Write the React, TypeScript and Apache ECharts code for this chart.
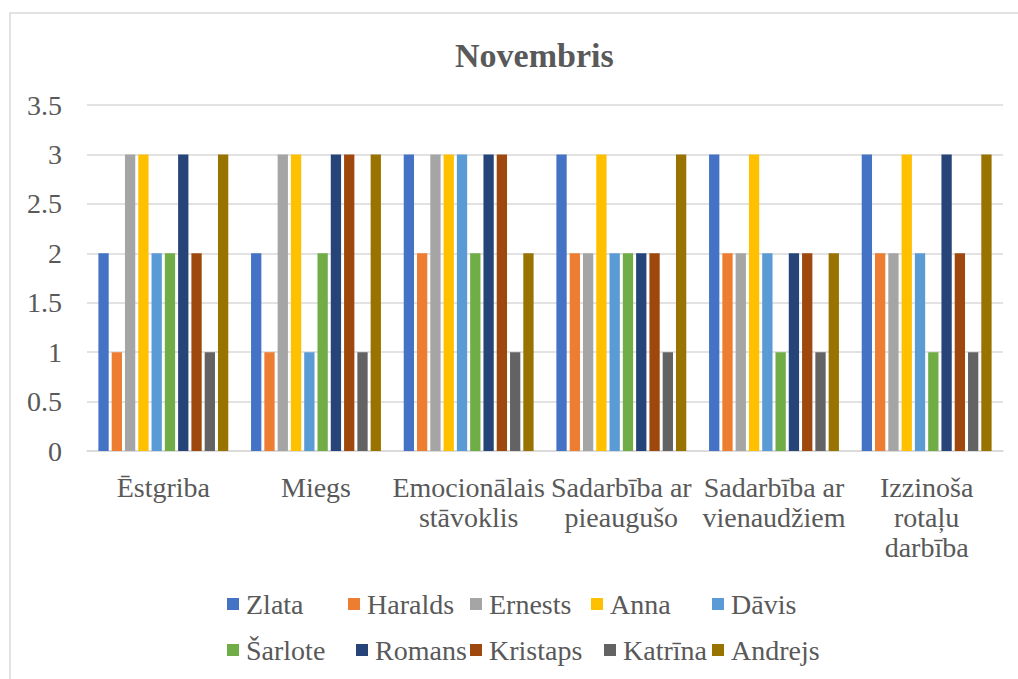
import React, { useEffect, useRef } from "react";
import * as echarts from "echarts";

const categories = [
  "Ēstgriba",
  "Miegs",
  "Emocionālais stāvoklis",
  "Sadarbība ar pieaugušo",
  "Sadarbība ar vienaudžiem",
  "Izzinoša rotaļu darbība",
];
const categoryLabels: Record<string, string> = {
  "Ēstgriba": "Ēstgriba",
  "Miegs": "Miegs",
  "Emocionālais stāvoklis": "Emocionālais\nstāvoklis",
  "Sadarbība ar pieaugušo": "Sadarbība ar\npieaugušo",
  "Sadarbība ar vienaudžiem": "Sadarbība ar\nvienaudžiem",
  "Izzinoša rotaļu darbība": "Izzinoša\nrotaļu\ndarbība",
};

const seriesNames = ["Zlata", "Haralds", "Ernests", "Anna", "Dāvis", "Šarlote", "Romans", "Kristaps", "Katrīna", "Andrejs"];
const colors = ["#4472C4", "#ED7D31", "#A5A5A5", "#FFC000", "#5B9BD5", "#70AD47", "#264478", "#9E480E", "#636363", "#997300"];

const zlata = [2, 2, 3, 3, 3, 3];
const haralds = [1, 1, 2, 2, 2, 2];
const ernests = [3, 3, 3, 2, 2, 2];
const anna = [3, 3, 3, 3, 3, 3];
const davis = [2, 1, 3, 2, 2, 2];
const sarlote = [2, 2, 2, 2, 1, 1];
const romans = [3, 3, 3, 2, 2, 3];
const kristaps = [2, 3, 3, 2, 2, 2];
const katrina = [1, 1, 1, 1, 1, 1];
const andrejs = [3, 3, 2, 3, 2, 3];

const seriesValues = [zlata, haralds, ernests, anna, davis, sarlote, romans, kristaps, katrina, andrejs];

const legendLeft = [227, 348, 470, 591, 712, 227, 356, 470, 604, 712];
const legendTop = [590, 590, 590, 590, 590, 636, 636, 636, 636, 636];

const FONT = "'Liberation Serif', 'Times New Roman', serif";
const TEXT = "#595959";

export default function App() {
  const ref = useRef<HTMLDivElement>(null);
  useEffect(() => {
    if (!ref.current) return;
    const chart = echarts.init(ref.current, undefined, { renderer: "svg" });
    chart.setOption({
      animation: false,
      color: colors,
      textStyle: { fontFamily: FONT, color: TEXT },
      graphic: [
        {
          type: "rect",
          shape: { x: 10, y: 13, width: 1030, height: 700 },
          style: { fill: "none", stroke: "#D9D9D9", lineWidth: 1.5 },
          silent: true,
          z: -1,
        },
      ],
      title: {
        text: "Novembris",
        left: 455,
        top: 38,
        padding: 0,
        textStyle: { fontFamily: FONT, fontSize: 34, fontWeight: "bold", color: TEXT },
      },
      legend: seriesNames.map((n, i) => ({
        data: [n],
        left: legendLeft[i],
        top: legendTop[i],
        padding: 0,
        itemWidth: 12,
        itemHeight: 12,
        icon: "rect",
        textStyle: { fontFamily: FONT, fontSize: 28, color: TEXT, padding: [0, 0, 0, 2] },
      })),
      grid: { left: 87, right: 15, top: 105, bottom: 228 },
      xAxis: {
        type: "category",
        data: categories,
        axisLine: { lineStyle: { color: "#D9D9D9", width: 1.5 } },
        axisTick: { show: false },
        axisLabel: {
          interval: 0,
          margin: 21,
          fontFamily: FONT,
          fontSize: 28,
          lineHeight: 30,
          color: TEXT,
          formatter: (v: string) => categoryLabels[v] ?? v,
        },
      },
      yAxis: {
        type: "value",
        min: 0,
        max: 3.5,
        interval: 0.5,
        axisLine: { show: false },
        axisTick: { show: false },
        splitLine: { lineStyle: { color: "#D9D9D9", width: 1.5 } },
        axisLabel: { margin: 25, fontFamily: FONT, fontSize: 28, color: TEXT },
      },
      series: seriesNames.map((n, i) => ({
        name: n,
        type: "bar",
        data: seriesValues[i],
        barWidth: 10.3,
        barGap: "29%",
        itemStyle: { color: colors[i] },
      })),
    });
    return () => chart.dispose();
  }, []);
  return <div ref={ref} style={{ position: "fixed", left: 0, top: 0, width: 1018, height: 679, background: "#fff" }} />;
}
